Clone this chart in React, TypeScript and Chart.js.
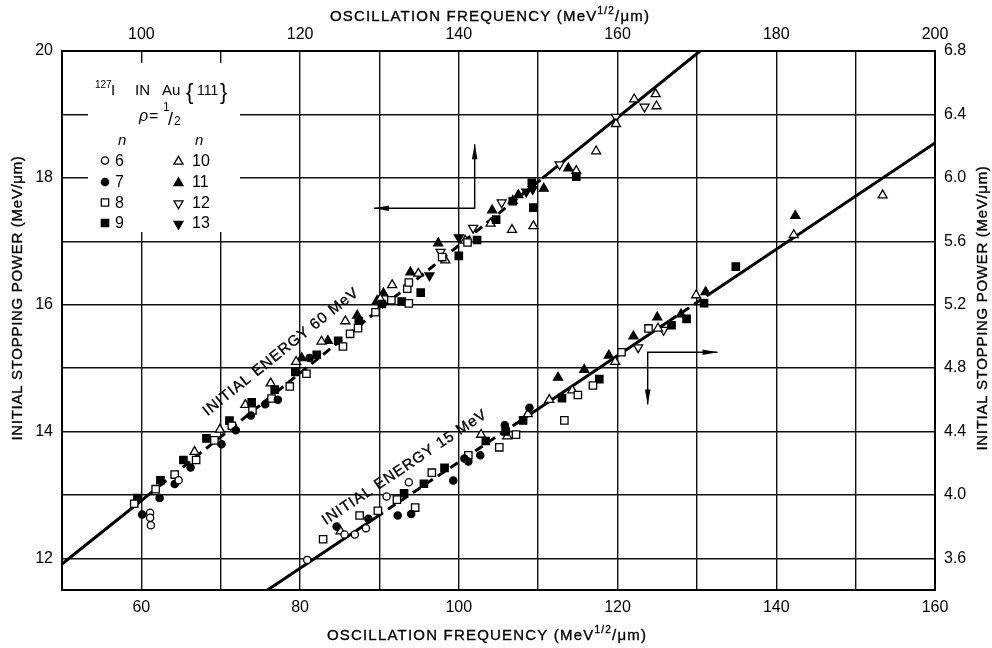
import React, { useEffect, useRef } from 'react';
import { Chart, registerables } from 'chart.js';

Chart.register(...registerables);

const FONT = '"Liberation Sans", Arial, Helvetica, sans-serif';

// ---------- axis ticks ----------
const bottomGridValues = [50, 60, 70, 80, 90, 100, 110, 120, 130, 140, 150, 160];
const bottomTickLabels = [60, 80, 100, 120, 140, 160];
const topTickLabels = [100, 120, 140, 160, 180, 200];
const leftGridValues = [12, 13, 14, 15, 16, 17, 18, 19, 20];
const leftTickLabels = [12, 14, 16, 18, 20];
const rightTickLabels = [3.6, 4.0, 4.4, 4.8, 5.2, 5.6, 6.0, 6.4, 6.8];

// ---------- 60 MeV data (top x axis, left y axis) ----------
const e60n6X = [101.1, 101.1, 101.2, 104.7];
const e60n6Y = [12.72, 12.64, 12.52, 13.23];
const e60n7X = [100.1, 102.3, 104.2, 106.2, 110.1, 111.9, 113.8, 115.6, 117.2, 121.2];
const e60n7Y = [12.69, 12.95, 13.17, 13.43, 13.8, 14.02, 14.25, 14.43, 14.5, 15.16];
const e60n8X = [99.1, 101.8, 104.2, 106.9, 109.2, 111.4, 114.0, 116.4, 118.7, 120.8, 125.4, 126.3, 127.3, 129.5, 131.5, 133.7, 133.5, 133.7, 137.9, 141.1];
const e60n8Y = [12.86, 13.09, 13.32, 13.55, 13.86, 14.09, 14.33, 14.52, 14.71, 14.91, 15.34, 15.54, 15.63, 15.88, 16.07, 16.02, 16.25, 16.35, 16.75, 16.98];
const e60n9X = [99.5, 102.4, 105.3, 108.2, 111.1, 113.9, 116.8, 119.4, 122.1, 124.8, 127.4, 130.3, 132.8, 135.2, 140.0, 142.3, 144.7, 146.8, 149.2, 149.4, 154.8];
const e60n9Y = [12.95, 13.23, 13.55, 13.89, 14.17, 14.46, 14.66, 14.94, 15.21, 15.43, 15.74, 16.01, 16.05, 16.19, 16.77, 17.02, 17.34, 17.63, 17.92, 17.53, 18.02];
const e60n10X = [106.7, 109.9, 113.1, 116.3, 119.5, 122.7, 125.7, 130.1, 131.6, 134.9, 138.3, 140.8, 144.0, 146.7, 149.4, 154.8, 157.3, 159.8, 162.1, 164.8, 164.9];
const e60n10Y = [13.68, 14.03, 14.42, 14.76, 15.1, 15.42, 15.74, 16.09, 16.31, 16.49, 16.7, 17.01, 17.28, 17.18, 17.24, 18.11, 18.42, 18.85, 19.24, 19.32, 19.13];
const e60n11X = [120.2, 123.5, 127.2, 129.7, 130.5, 133.9, 137.4, 144.2, 146.8, 147.5, 150.7, 153.8];
const e60n11Y = [15.16, 15.43, 15.83, 16.06, 16.18, 16.51, 16.97, 17.49, 17.64, 17.73, 17.83, 18.15];
const e60n12X = [137.7, 141.8, 145.4, 152.7, 159.8, 163.4];
const e60n12Y = [16.83, 17.21, 17.61, 18.21, 18.96, 19.12];
const e60n13X = [136.3, 140.0, 148.5, 149.3];
const e60n13Y = [16.46, 17.06, 17.78, 17.82];

// ---------- 15 MeV data (bottom x axis, right y axis) ----------
const e15n6X = [80.9, 85.6, 86.9, 88.3, 90.9, 93.7];
const e15n6Y = [3.59, 3.75, 3.75, 3.79, 3.99, 4.08];
const e15n7X = [84.6, 88.6, 92.3, 94.0, 99.3, 100.7, 101.2, 102.7, 105.8, 108.9];
const e15n7Y = [3.8, 3.85, 3.87, 3.88, 4.09, 4.23, 4.21, 4.25, 4.44, 4.55];
const e15n8X = [82.9, 87.5, 89.8, 92.2, 94.5, 96.6, 101.2, 105.1, 107.2, 113.3, 115.0, 116.9, 120.5, 123.9];
const e15n8Y = [3.72, 3.87, 3.9, 3.97, 3.92, 4.14, 4.25, 4.3, 4.38, 4.47, 4.63, 4.69, 4.9, 5.05];
const e15n9X = [93.1, 95.6, 98.2, 103.4, 105.9, 108.1, 113.0, 117.7, 126.8, 128.7, 130.9, 134.9];
const e15n9Y = [4.01, 4.07, 4.17, 4.34, 4.4, 4.47, 4.61, 4.73, 5.07, 5.11, 5.21, 5.44];
const e15n10X = [85.1, 102.8, 106.1, 108.7, 111.4, 114.3, 119.7, 125.1, 129.9, 142.2, 153.4];
const e15n10Y = [3.77, 4.38, 4.37, 4.51, 4.6, 4.66, 4.84, 5.05, 5.26, 5.64, 5.89];
const e15n11X = [112.5, 115.8, 118.9, 122.0, 125.0, 128.0, 131.1, 142.4];
const e15n11Y = [4.74, 4.79, 4.88, 5.0, 5.12, 5.14, 5.28, 5.76];
const e15n12X = [122.6, 125.8];
const e15n12Y = [4.93, 5.04];

// ---------- fitted lines ----------
const fit60X = [90, 100.8, 150.5, 170.4];
const fit60Y = [11.91, 12.99, 17.99, 20.0];
const fit60Dashed = [false, true, false];
const fit15X = [75.9, 89.5, 108.9, 126.5, 131.5, 160];
const fit15Y = [3.4, 3.856, 4.506, 5.097, 5.264, 6.22];
const fit15Dashed = [false, true, false, true, false];

// ---------- arrows (polyline: head at first and last point) ----------
const arrow60X = [129.3, 142.0, 142.0];
const arrow60Y = [17.52, 17.52, 18.53];
const arrow15X = [132.6, 123.8, 123.8];
const arrow15Y = [4.9, 4.9, 4.57];

// ---------- curve labels ----------
const label60 = { text: 'INITIAL ENERGY 60 MeV', x: 117.5, y: 15.27 };
const label15 = { text: 'INITIAL ENERGY 15 MeV', x: 93.1, y: 4.18 };

const legendLeft = [6, 7, 8, 9];
const legendRight = [10, 11, 12, 13];

type Shape = 'circle' | 'rect' | 'tri' | 'itri';
const markerOf: Record<number, { shape: Shape; filled: boolean }> = {
  6: { shape: 'circle', filled: false },
  7: { shape: 'circle', filled: true },
  8: { shape: 'rect', filled: false },
  9: { shape: 'rect', filled: true },
  10: { shape: 'tri', filled: false },
  11: { shape: 'tri', filled: true },
  12: { shape: 'itri', filled: false },
  13: { shape: 'itri', filled: true },
};
const RADIUS: Record<Shape, number> = { circle: 3.6, rect: 5.2, tri: 5.2, itri: 5.2 };

const upperSeries = [
  { n: 6, x: e60n6X, y: e60n6Y },
  { n: 7, x: e60n7X, y: e60n7Y },
  { n: 8, x: e60n8X, y: e60n8Y },
  { n: 9, x: e60n9X, y: e60n9Y },
  { n: 10, x: e60n10X, y: e60n10Y },
  { n: 11, x: e60n11X, y: e60n11Y },
  { n: 12, x: e60n12X, y: e60n12Y },
  { n: 13, x: e60n13X, y: e60n13Y },
];
const lowerSeries = [
  { n: 6, x: e15n6X, y: e15n6Y },
  { n: 7, x: e15n7X, y: e15n7Y },
  { n: 8, x: e15n8X, y: e15n8Y },
  { n: 9, x: e15n9X, y: e15n9Y },
  { n: 10, x: e15n10X, y: e15n10Y },
  { n: 11, x: e15n11X, y: e15n11Y },
  { n: 12, x: e15n12X, y: e15n12Y },
];

const zip = (xs: number[], ys: number[]) => xs.map((x, i) => ({ x, y: ys[i] }));

function markerDataset(s: { n: number; x: number[]; y: number[] }, xAxisID: string, yAxisID: string, tag: string) {
  const m = markerOf[s.n];
  return {
    label: `${tag} n=${s.n}`,
    data: zip(s.x, s.y),
    xAxisID,
    yAxisID,
    showLine: false,
    pointStyle: m.shape === 'circle' ? 'circle' : m.shape === 'rect' ? 'rect' : 'triangle',
    rotation: m.shape === 'itri' ? 180 : 0,
    pointRadius: RADIUS[m.shape],
    pointBackgroundColor: m.filled ? '#000' : '#fff',
    pointBorderColor: '#000',
    pointBorderWidth: 1.3,
    order: 1,
  };
}

function fitDataset(xs: number[], ys: number[], dashed: boolean[], xAxisID: string, yAxisID: string) {
  return {
    label: 'fit',
    data: zip(xs, ys),
    xAxisID,
    yAxisID,
    showLine: true,
    borderColor: '#000',
    borderWidth: 3,
    pointRadius: 0,
    fill: false,
    tension: 0,
    order: 2,
    segment: {
      borderDash: (c: any) => (dashed[c.p0DataIndex] ? [9, 6] : undefined),
    },
  };
}

function drawMarker(ctx: CanvasRenderingContext2D, n: number, x: number, y: number) {
  const m = markerOf[n];
  const r = RADIUS[m.shape];
  ctx.beginPath();
  if (m.shape === 'circle') {
    ctx.arc(x, y, r, 0, Math.PI * 2);
  } else if (m.shape === 'rect') {
    const h = r * Math.SQRT1_2;
    ctx.rect(x - h, y - h, 2 * h, 2 * h);
  } else {
    const dir = m.shape === 'tri' ? 1 : -1;
    for (let k = 0; k < 3; k++) {
      const a = (k * 2 * Math.PI) / 3;
      const px = x + Math.sin(a) * r;
      const py = y - dir * Math.cos(a) * r;
      if (k === 0) ctx.moveTo(px, py);
      else ctx.lineTo(px, py);
    }
    ctx.closePath();
  }
  ctx.fillStyle = m.filled ? '#000' : '#fff';
  ctx.fill();
  ctx.lineWidth = 1.3;
  ctx.strokeStyle = '#000';
  ctx.stroke();
}

type Part = { t: string; size: number; dy?: number; italic?: boolean };

function drawRun(ctx: CanvasRenderingContext2D, parts: Part[], cx: number, cy: number, angle: number, spacing: number) {
  ctx.save();
  ctx.translate(cx, cy);
  ctx.rotate(angle);
  (ctx as any).letterSpacing = spacing + 'px';
  const widths = parts.map((p) => {
    ctx.font = `${p.italic ? 'italic ' : ''}${p.size}px ${FONT}`;
    return ctx.measureText(p.t).width;
  });
  const total = widths.reduce((a, b) => a + b, 0);
  const base = parts[0].size * 0.36;
  let x = -total / 2;
  ctx.textAlign = 'left';
  ctx.textBaseline = 'alphabetic';
  ctx.fillStyle = '#000';
  ctx.strokeStyle = '#000';
  ctx.lineWidth = 0.35;
  parts.forEach((p, i) => {
    ctx.font = `${p.italic ? 'italic ' : ''}${p.size}px ${FONT}`;
    ctx.fillText(p.t, x, base + (p.dy || 0));
    ctx.strokeText(p.t, x, base + (p.dy || 0));
    x += widths[i];
  });
  ctx.restore();
}

function drawArrow(ctx: CanvasRenderingContext2D, pts: { x: number; y: number }[]) {
  ctx.save();
  ctx.strokeStyle = '#000';
  ctx.fillStyle = '#000';
  ctx.lineWidth = 1.4;
  ctx.beginPath();
  pts.forEach((p, i) => (i === 0 ? ctx.moveTo(p.x, p.y) : ctx.lineTo(p.x, p.y)));
  ctx.stroke();
  const head = (tip: { x: number; y: number }, from: { x: number; y: number }) => {
    const dx = tip.x - from.x;
    const dy = tip.y - from.y;
    const len = Math.hypot(dx, dy) || 1;
    const ux = dx / len;
    const uy = dy / len;
    const L = 15;
    const W = 2.8;
    ctx.beginPath();
    ctx.moveTo(tip.x, tip.y);
    ctx.lineTo(tip.x - ux * L - uy * W, tip.y - uy * L + ux * W);
    ctx.lineTo(tip.x - ux * L + uy * W, tip.y - uy * L - ux * W);
    ctx.closePath();
    ctx.fill();
  };
  head(pts[0], pts[1]);
  head(pts[pts.length - 1], pts[pts.length - 2]);
  ctx.restore();
}

const overlayPlugin = {
  id: 'overlay',
  beforeDatasetsDraw(chart: any) {
    const { ctx, chartArea: a } = chart;
    ctx.save();
    ctx.fillStyle = '#fff';
    ctx.fillRect(a.left + 26, a.top + 12, 152, 169);
    ctx.restore();
  },
  afterDatasetsDraw(chart: any) {
    const { ctx, chartArea: a, scales } = chart;
    const { x, x2, y, y2 } = scales;

    // ----- legend -----
    const L = a.left;
    const T = a.top;
    ctx.save();
    ctx.fillStyle = '#000';
    ctx.textBaseline = 'alphabetic';
    ctx.textAlign = 'left';
    ctx.font = `10px ${FONT}`;
    ctx.fillText('127', L + 33, T + 37);
    ctx.font = `15px ${FONT}`;
    ctx.fillText('I', L + 49, T + 44);
    ctx.fillText('IN', L + 73, T + 44);
    ctx.fillText('Au', L + 100, T + 44);
    ctx.font = `22px ${FONT}`;
    ctx.fillText('{', L + 124, T + 48);
    ctx.fillText('}', L + 158, T + 48);
    ctx.font = `14px ${FONT}`;
    ctx.fillText('111', L + 135, T + 44);
    ctx.font = `italic 16px ${FONT}`;
    ctx.fillText('\u03c1', L + 77, T + 70);
    ctx.font = `16px ${FONT}`;
    ctx.fillText('=', L + 87, T + 70);
    ctx.font = `12px ${FONT}`;
    ctx.fillText('1', L + 101, T + 60);
    ctx.fillText('2', L + 112, T + 74);
    ctx.font = `18px ${FONT}`;
    ctx.fillText('/', L + 106, T + 74);
    ctx.font = `italic 15px ${FONT}`;
    ctx.fillText('n', L + 56, T + 94);
    ctx.fillText('n', L + 133, T + 94);
    ctx.font = `16px ${FONT}`;
    ctx.textBaseline = 'middle';
    const rowsY = [109.5, 131, 151.5, 172];
    legendLeft.forEach((n, i) => {
      drawMarker(ctx, n, L + 43, T + rowsY[i]);
      ctx.fillStyle = '#000';
      ctx.fillText(String(n), L + 53, T + rowsY[i] + 1);
    });
    legendRight.forEach((n, i) => {
      drawMarker(ctx, n, L + 116.5, T + rowsY[i] + 1);
      ctx.fillStyle = '#000';
      ctx.fillText(String(n), L + 130, T + rowsY[i] + 1);
    });
    ctx.restore();

    // ----- arrows -----
    drawArrow(ctx, arrow60X.map((v, i) => ({ x: x2.getPixelForValue(v), y: y.getPixelForValue(arrow60Y[i]) })));
    drawArrow(ctx, arrow15X.map((v, i) => ({ x: x.getPixelForValue(v), y: y2.getPixelForValue(arrow15Y[i]) })));

    // ----- curve labels -----
    const ang60 = Math.atan2(
      y.getPixelForValue(fit60Y[fit60Y.length - 1]) - y.getPixelForValue(fit60Y[0]),
      x2.getPixelForValue(fit60X[fit60X.length - 1]) - x2.getPixelForValue(fit60X[0])
    );
    const ang15 = Math.atan2(
      y2.getPixelForValue(fit15Y[fit15Y.length - 1]) - y2.getPixelForValue(fit15Y[0]),
      x.getPixelForValue(fit15X[fit15X.length - 1]) - x.getPixelForValue(fit15X[0])
    );
    drawRun(ctx, [{ t: label60.text, size: 15 }], x2.getPixelForValue(label60.x), y.getPixelForValue(label60.y), ang60, 1);
    drawRun(ctx, [{ t: label15.text, size: 15 }], x.getPixelForValue(label15.x), y2.getPixelForValue(label15.y), ang15, 1);

    // ----- axis titles -----
    const freqTitle: Part[] = [
      { t: 'OSCILLATION FREQUENCY (MeV', size: 15 },
      { t: '1/2', size: 10, dy: -7 },
      { t: '/\u03bcm)', size: 15 },
    ];
    const powerTitle: Part[] = [{ t: 'INITIAL STOPPING POWER (MeV/\u03bcm)', size: 15 }];
    drawRun(ctx, freqTitle, 490, 15.8, 0, 1.2);
    drawRun(ctx, freqTitle, 487, 634.2, 0, 1.2);
    drawRun(ctx, powerTitle, 17, 298, -Math.PI / 2, 0.7);
    drawRun(ctx, powerTitle, 982, 308, -Math.PI / 2, 0.7);
  },
};

const tickFont = { family: FONT, size: 16 };

export default function App() {
  const ref = useRef<HTMLCanvasElement>(null);
  useEffect(() => {
    if (!ref.current) return;
    const datasets: any[] = [
      fitDataset(fit60X, fit60Y, fit60Dashed, 'x2', 'y'),
      fitDataset(fit15X, fit15Y, fit15Dashed, 'x', 'y2'),
      ...upperSeries.map((s) => markerDataset(s, 'x2', 'y', '60 MeV')),
      ...lowerSeries.map((s) => markerDataset(s, 'x', 'y2', '15 MeV')),
    ];
    const chart = new Chart(ref.current, {
      type: 'scatter',
      data: { datasets },
      options: {
        animation: false,
        responsive: true,
        maintainAspectRatio: false,
        events: [],
        layout: { padding: 0 },
        plugins: { legend: { display: false }, tooltip: { enabled: false }, title: { display: false } },
        scales: {
          x: {
            type: 'linear',
            position: 'bottom',
            min: 50,
            max: 160,
            afterBuildTicks: (s: any) => {
              s.ticks = bottomGridValues.map((v) => ({ value: v }));
            },
            afterFit: (s: any) => {
              s.height = 58;
            },
            ticks: {
              autoSkip: false,
              maxRotation: 0,
              padding: 8,
              color: '#000',
              font: tickFont,
              callback: (v: any) => (bottomTickLabels.includes(Number(v)) ? String(v) : ''),
            },
            grid: { color: '#111', lineWidth: 1.4, drawTicks: false },
            border: { display: true, color: '#000', width: 2 },
          },
          x2: {
            type: 'linear',
            position: 'top',
            min: 90,
            max: 200,
            afterBuildTicks: (s: any) => {
              s.ticks = topTickLabels.map((v) => ({ value: v }));
            },
            afterFit: (s: any) => {
              s.height = 51;
            },
            ticks: { autoSkip: false, maxRotation: 0, padding: 7, color: '#000', font: tickFont, callback: (v: any) => String(v) },
            grid: { display: false, drawTicks: false },
            border: { display: true, color: '#000', width: 2 },
          },
          y: {
            type: 'linear',
            position: 'left',
            min: 11.5,
            max: 20,
            afterBuildTicks: (s: any) => {
              s.ticks = leftGridValues.map((v) => ({ value: v }));
            },
            afterFit: (s: any) => {
              s.width = 62;
            },
            ticks: {
              autoSkip: false,
              padding: 9,
              color: '#000',
              font: tickFont,
              callback: (v: any) => (leftTickLabels.includes(Number(v)) ? String(v) : ''),
            },
            grid: { color: '#111', lineWidth: 1.4, drawTicks: false },
            border: { display: true, color: '#000', width: 2 },
          },
          y2: {
            type: 'linear',
            position: 'right',
            min: 3.4,
            max: 6.8,
            afterBuildTicks: (s: any) => {
              s.ticks = rightTickLabels.map((v) => ({ value: v }));
            },
            afterFit: (s: any) => {
              s.width = 57;
            },
            ticks: { autoSkip: false, padding: 9, color: '#000', font: tickFont, callback: (v: any) => Number(v).toFixed(1) },
            grid: { display: false, drawTicks: false },
            border: { display: true, color: '#000', width: 2 },
          },
        },
      } as any,
      plugins: [overlayPlugin],
    });
    return () => chart.destroy();
  }, []);
  return (
    <div style={{ position: 'absolute', left: 0, top: 0, width: 992, height: 648, background: '#fff' }}>
      <canvas ref={ref} style={{ display: 'block' }} />
    </div>
  );
}
